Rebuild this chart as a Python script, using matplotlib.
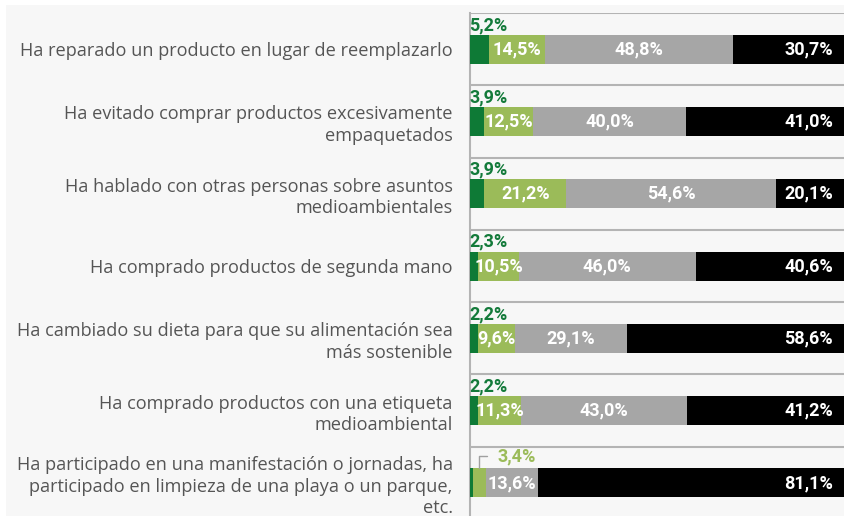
import matplotlib.pyplot as plt
from matplotlib.patches import Rectangle
from matplotlib.transforms import offset_copy

categorias = [
    "Ha reparado un producto en lugar de reemplazarlo",
    "Ha evitado comprar productos excesivamente\nempaquetados",
    "Ha hablado con otras personas sobre asuntos\nmedioambientales",
    "Ha comprado productos de segunda mano",
    "Ha cambiado su dieta para que su alimentación sea\nmás sostenible",
    "Ha comprado productos con una etiqueta\nmedioambiental",
    "Ha participado en una manifestación o jornadas, ha\nparticipado en limpieza de una playa o un parque,\netc.",
]
serie_1 = [5.2, 3.9, 3.9, 2.3, 2.2, 2.2, 0.8]
serie_2 = [14.5, 12.5, 21.2, 10.5, 9.6, 11.3, 3.4]
serie_3 = [48.8, 40.0, 54.6, 46.0, 29.1, 43.0, 13.6]
serie_4 = [30.7, 41.0, 20.1, 40.6, 58.6, 41.2, 81.1]

colores = ["#0e7a36", "#9bbb59", "#a6a6a6", "#000000"]
verde_osc = "#137a3a"
verde_cla = "#9bbb59"
gris_linea = "#b4b4b4"

plt.rcParams['font.family'] = ['Roboto', 'DejaVu Sans']

W, H = 844, 516
fig = plt.figure(figsize=(W / 100, H / 100), dpi=100)
fig.patch.set_facecolor("white")
fig.patches.append(Rectangle((6 / W, 0), 1, (H - 5) / H, transform=fig.transFigure,
                             facecolor="#f7f7f7", edgecolor="none", zorder=-10))

top_px, fila_px = 13, 72.3
alto = fila_px * len(categorias)
ax = fig.add_axes([469.5 / W, (H - top_px - alto) / H, (W - 469.5) / W, alto / H])
ax.set_facecolor("#f7f7f7")

def fmt(v):
    return f"{v:.1f}%".replace(".", ",")

y = list(range(len(categorias)))
izq = [0] * len(y)
series = [serie_1, serie_2, serie_3, serie_4]
for serie, color in zip(series, colores):
    ax.barh(y, serie, left=izq, height=0.4, color=color, zorder=3)
    izq = [a + b for a, b in zip(izq, serie)]

xmax = 97.4
ax.set_xlim(0, xmax)
ax.set_ylim(len(y) - 0.5, -0.5)

lbl = dict(fontsize=13, fontweight="bold", va="center", zorder=5)
for i in y:
    a, b, c, d = serie_1[i], serie_2[i], serie_3[i], serie_4[i]
    # etiqueta verde oscuro encima de la barra
    if a >= 1:
        ax.annotate(fmt(a), (0, i - 0.2), xytext=(0, 0.5), textcoords="offset points",
                    ha="left", va="bottom", color=verde_osc, fontsize=13,
                    fontweight="bold")
    # verde claro
    if b >= 5:
        ax.text(a + b / 2, i, fmt(b), ha="center", color="white", **lbl)
    else:
        ax.annotate(fmt(b), (a + b / 2, i - 0.2), xytext=(13, 9),
                    textcoords="offset points", ha="left", va="center",
                    color=verde_cla, fontsize=13, fontweight="bold",
                    arrowprops=dict(arrowstyle="-", color="#a0a0a0", lw=1,
                                    shrinkA=5, shrinkB=0, relpos=(0, 0.5),
                                    connectionstyle="angle,angleA=0,angleB=90,rad=0"))
    # gris
    ax.text(a + b + c / 2, i, fmt(c), ha="center", color="white", **lbl)
    # negro, alineado a la derecha
    ax.text(min(a + b + c + d, xmax), i, fmt(d), ha="right", color="white",
            transform=offset_copy(ax.transData, fig=fig, x=-8, units="points"), **lbl)

ax.set_yticks(y)
ax.set_yticklabels(categorias, fontsize=13.1, color="#555555", linespacing=1.25,
                   family=["Open Sans", "DejaVu Sans"])
ax.tick_params(axis="y", length=0, pad=12)
ax.set_xticks([])

for k in range(len(y) + 1):
    ax.axhline(k - 0.5, color=gris_linea, lw=1.5, zorder=1)
for s in ["top", "right", "bottom"]:
    ax.spines[s].set_visible(False)
ax.spines["left"].set_color(gris_linea)
ax.spines["left"].set_linewidth(1.5)

fig.savefig("out.png", dpi=100)
